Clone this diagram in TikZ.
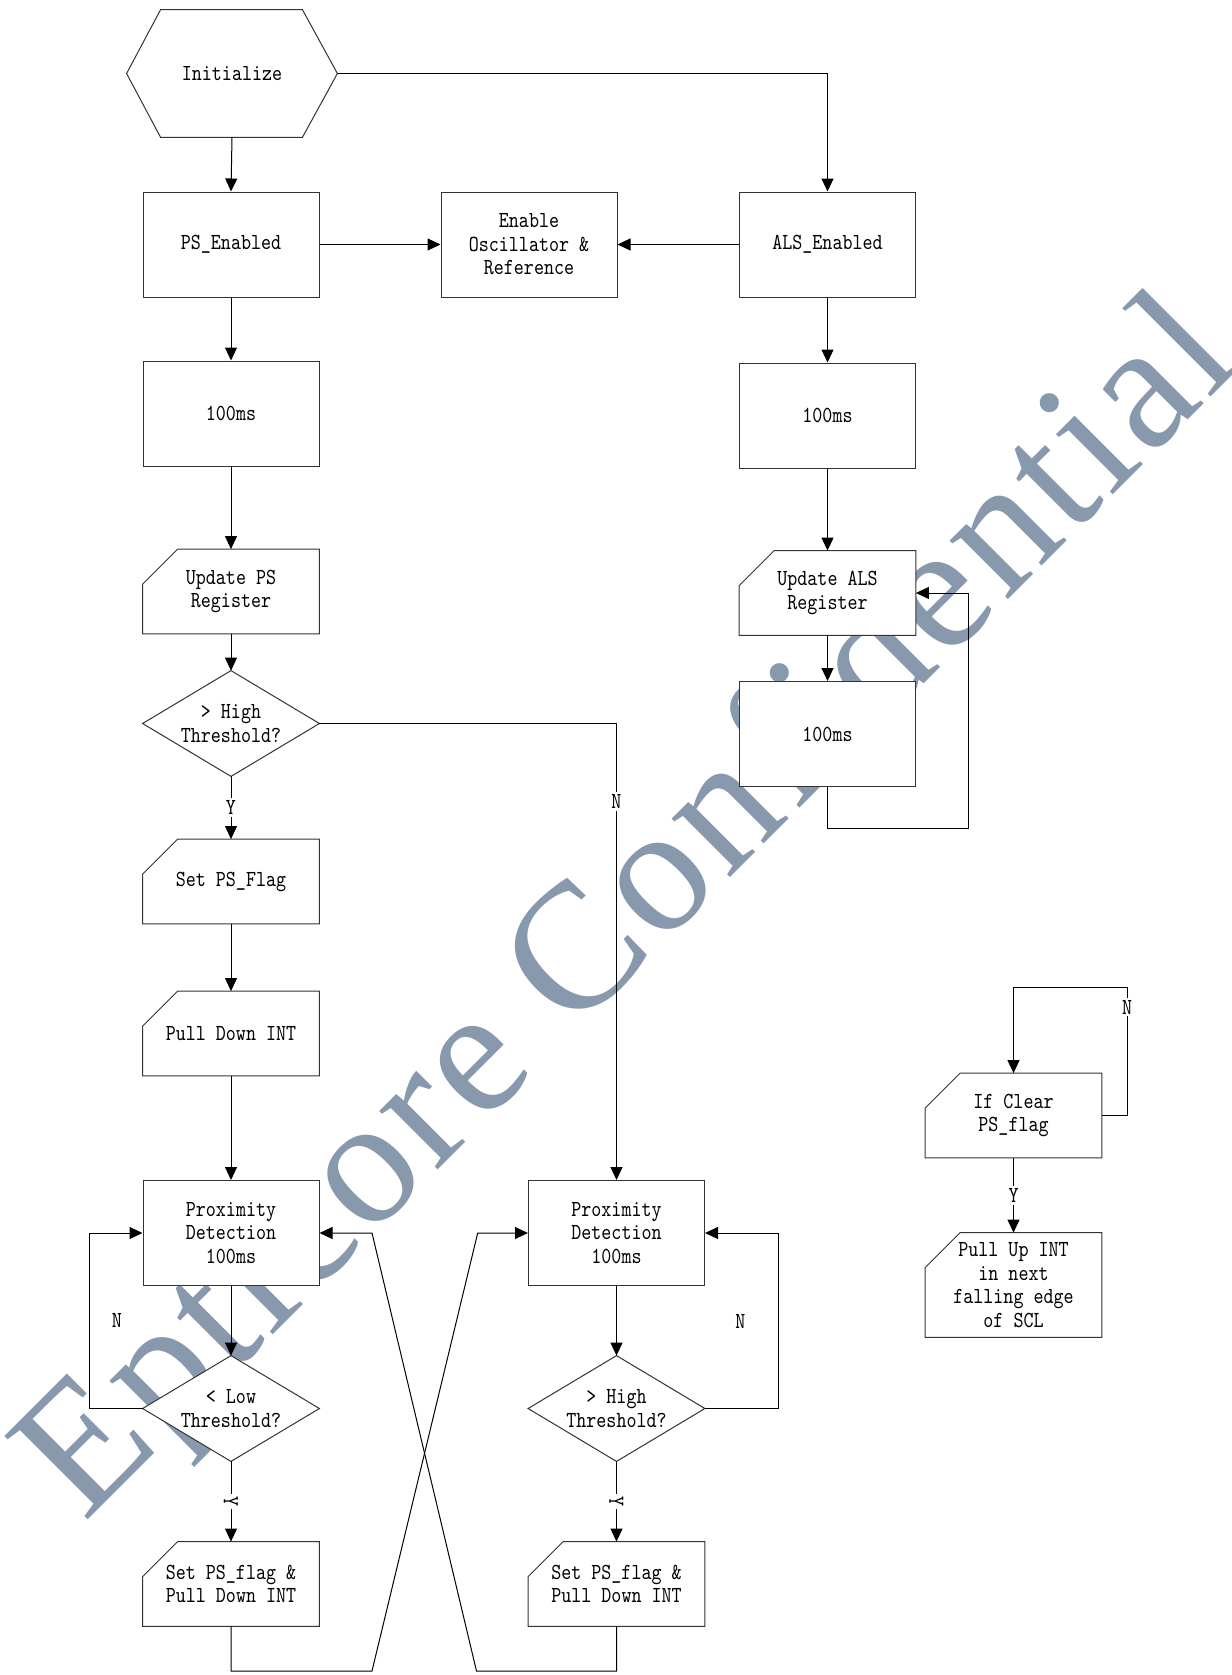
\documentclass[tikz,border=0pt]{standalone}
\usepackage{fontspec}
\newfontfamily\dfont{lmmono10-regular.otf}[FakeStretch=0.83]
\newfontfamily\wfont{Liberation Serif}[LetterSpace=2.5]
\usetikzlibrary{arrows.meta}
\definecolor{wm}{RGB}{136,153,173}
\pgfdeclarelayer{wml}
\pgfdeclarelayer{fil}
\pgfsetlayers{wml,fil,main}
\newcommand\cardpath[1]{\path[outl] ([xshift=17.5pt]#1.north west) -- (#1.north east) -- (#1.south east) -- (#1.south west) -- ([yshift=-17.5pt]#1.north west) -- cycle;}
\newcommand\hexpath[1]{\path[outl] ([xshift=17pt]#1.north west) -- ([xshift=-17.5pt]#1.north east) -- (#1.east) -- ([xshift=-17.5pt]#1.south east) -- ([xshift=17pt]#1.south west) -- (#1.west) -- cycle;}
\newcommand\diapath[1]{\path[outl] (#1.north) -- (#1.east) -- (#1.south) -- (#1.west) -- cycle;}
\tikzset{
  txt/.style={font={\dfont\fontsize{11.5pt}{11.75pt}\selectfont}, align=center, inner sep=0pt, text=black},
  outl/.style={line width=0.5pt, draw=black!80, fill=white},
  box/.style={txt, draw=black!80, fill=white, line width=0.5pt, minimum width=88pt, minimum height=52.5pt},
  card/.style={txt, minimum width=88pt, minimum height=42pt},
  dia/.style={txt, minimum width=88pt, minimum height=52.5pt},
  arr/.style={line width=0.5pt, draw=black, -{Triangle[length=6.5pt,width=6pt]}},
  lbl/.style={txt, fill=white, inner sep=1.2pt},
  plainlbl/.style={txt}
}
\begin{document}
\begin{tikzpicture}[x=0.5pt,y=-0.5pt]
\useasboundingbox (0,0) rectangle (1231,1675);
% watermark (behind everything)
\begin{pgfonlayer}{wml}
\node[rotate=45, anchor=base west, inner sep=0pt, text=wm, font={\wfont\fontsize{90pt}{90pt}\selectfont}] (wmark) at (84,1524) {Epticore Confidential};
\end{pgfonlayer}
% nodes
\node[txt, minimum width=105pt, minimum height=63.5pt] (init) at (232,73.5) {Initialize};
\node[box] (psen) at (231,244.5) {PS\_Enabled};
\node[box] (osc) at (529,244.5) {Enable\\Oscillator \&\\Reference};
\node[box] (alsen) at (827.5,244.5) {ALS\_Enabled};
\node[box] (ps100) at (231,413.5) {100ms};
\node[box] (als100) at (827.5,415.5) {100ms};
\node[card] (updps) at (231,591.5) {Update PS\\Register};
\node[card] (updals) at (827.5,593) {Update ALS\\Register};
\node[box] (als100b) at (827.5,734) {100ms};
\node[dia] (hi1) at (231,723.5) {> High\\Threshold?};
\node[card] (setflag) at (231,881.5) {Set PS\_Flag};
\node[card] (pulldown) at (231,1033.5) {Pull Down INT};
\node[box] (prox1) at (231,1233) {Proximity\\Detection\\100ms};
\node[dia] (lo) at (231,1408.5) {< Low\\Threshold?};
\node[card] (setpd1) at (231,1584) {Set PS\_flag \&\\Pull Down INT};
\node[box] (prox2) at (616.5,1233) {Proximity\\Detection\\100ms};
\node[dia] (hi2) at (616.5,1408.5) {> High\\Threshold?};
\node[card] (setpd2) at (616.5,1584) {Set PS\_flag \&\\Pull Down INT};
\node[card] (ifclear) at (1013.5,1115.5) {If Clear\\PS\_flag};
\node[card, minimum height=52pt] (pullup) at (1013.5,1285) {Pull Up INT\\in next\\falling edge\\of SCL};
% outlines (filled white, under the texts)
\begin{pgfonlayer}{fil}
\hexpath{init}
\cardpath{updps}
\cardpath{updals}
\cardpath{setflag}
\cardpath{pulldown}
\cardpath{setpd1}
\cardpath{setpd2}
\cardpath{ifclear}
\cardpath{pullup}
\diapath{hi1}
\diapath{lo}
\diapath{hi2}
\end{pgfonlayer}
% waypoints
\coordinate (wa) at (968,828);
\coordinate (c1) at (372,1671);
\coordinate (c2) at (477.7,1233);
\coordinate (c3) at (476.5,1671);
\coordinate (c4) at (372,1233);
\coordinate (lp) at (1127,987);
% connectors
\draw[arr] (init.south) -- (psen.north);
\draw[arr] (init.east) -| (alsen.north);
\draw[arr] (psen.east) -- (osc.west);
\draw[arr] (alsen.west) -- (osc.east);
\draw[arr] (psen.south) -- (ps100.north);
\draw[arr] (alsen.south) -- (als100.north);
\draw[arr] (ps100.south) -- (updps.north);
\draw[arr] (als100.south) -- (updals.north);
\draw[arr] (updps.south) -- (hi1.north);
\draw[arr] (updals.south) -- (als100b.north);
\draw[arr] (als100b.south) |- (wa) |- (updals.east);
\draw[arr] (hi1.south) -- node[lbl]{Y} (setflag.north);
\draw[arr] (hi1.east) -| node[lbl, pos=0.585]{N} (prox2.north);
\draw[arr] (setflag.south) -- (pulldown.north);
\draw[arr] (pulldown.south) -- (prox1.north);
\draw[arr] (prox1.south) -- (lo.north);
\draw[arr] (lo.west) -- ++(-53,0) |- (prox1.west);
\node[plainlbl] (n1) at (117,1320) {N};
\draw[arr] (lo.south) -- node[lbl, rotate=-90]{Y} (setpd1.north);
\draw[arr] (setpd1.south) |- (c1) -- (c2) -- (prox2.west);
\draw[arr] (setpd2.south) |- (c3) -- (c4) -- (prox1.east);
\draw[arr] (prox2.south) -- (hi2.north);
\draw[arr] (hi2.east) -- ++(74,0) |- (prox2.east);
\node[plainlbl] (n2) at (740.5,1321) {N};
\draw[arr] (hi2.south) -- node[lbl, rotate=-90]{Y} (setpd2.north);
\draw[arr] (ifclear.east) -| (lp) -| (ifclear.north);
\node[lbl] (n3) at (1127,1007) {N};
\draw[arr] (ifclear.south) -- node[lbl]{Y} (pullup.north);
\end{tikzpicture}
\end{document}
